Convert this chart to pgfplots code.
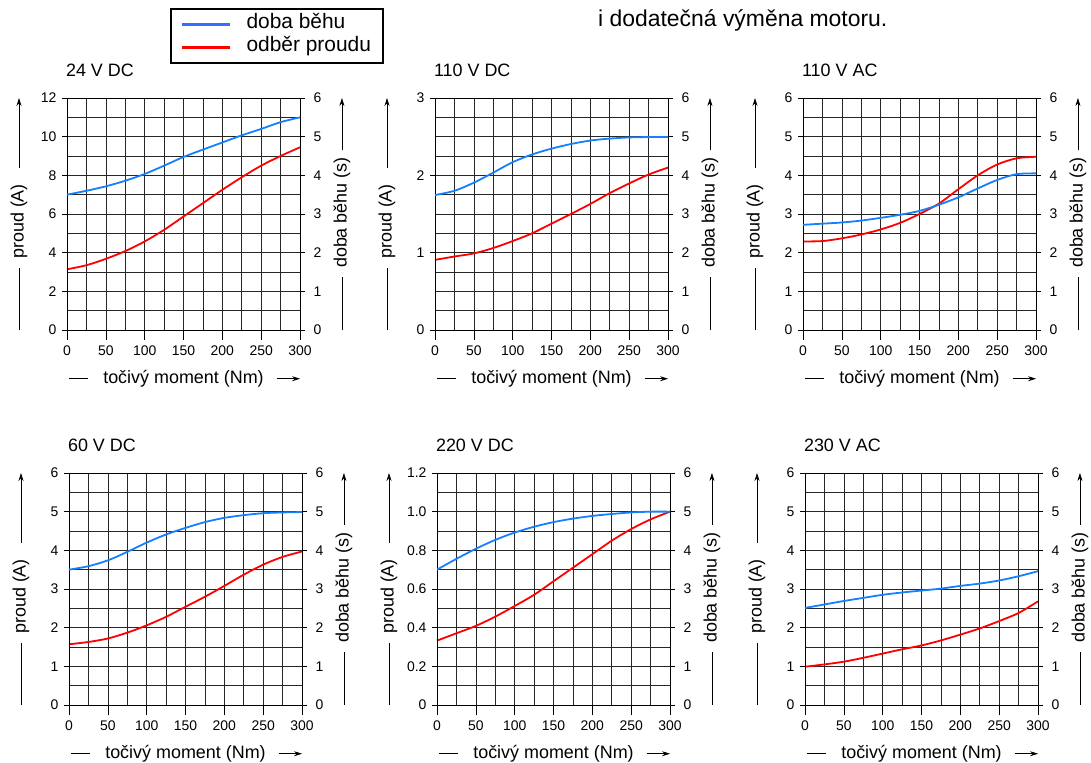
\documentclass[border=0pt]{standalone}
\usepackage{fontspec}
\setmainfont{Liberation Sans}
\usepackage{pgfplots}
\pgfplotsset{compat=1.18}
\usetikzlibrary{arrows.meta}
\definecolor{cblue}{RGB}{20,128,255}
\definecolor{cred}{RGB}{255,0,0}
\definecolor{lblue}{RGB}{50,110,255}
\newcommand\tickfont{\fontsize{14}{16}\selectfont}
\newcommand\labfont{\fontsize{18}{20}\selectfont}
\tikzset{
  redc/.style={cred, line width=1.8bp, smooth},
  bluec/.style={cblue, line width=1.8bp, smooth},
  labl/.style={black, line width=0.7bp},
  arr/.style={labl, -{Stealth[length=8bp,width=5bp]}},
}
\pgfplotsset{
  base/.style={scale only axis, width=233bp, height=232bp, xmin=0, xmax=300, ymin=0,
    anchor=south west, tick align=outside, major tick length=5bp, minor tick length=0pt,
    axis line style={black, line width=0.65bp}, every tick/.style={black, line width=0.65bp},
    tick label style={font=\tickfont}, clip=false,
    /pgf/number format/assume math mode=true},
}
% #1 x, #2 y (bottom-left, bp), #3 title, #4 ymax, #5 ytick, #6 minor ytick, #7 yticklabels, #8 red, #9 blue
\newcommand\panel[9]{%
\begin{axis}[base, at={(#1bp,#2bp)}, ymax=#4, ytick={#5}, minor ytick={#6}, yticklabels={#7},
  xtick={0,50,...,300}, minor xtick={25,75,...,275}, xticklabels={0,50,100,150,200,250,300},
  grid=both, major grid style={black!85, line width=0.65bp}, minor grid style={black!85, line width=0.65bp},
  ytick pos=left, xtick pos=left,
  yticklabel style={xshift=-2bp}, xticklabel style={yshift=-7bp}]
\addplot[redc] coordinates {#8};
\node[anchor=west, inner sep=0pt, font=\labfont] at (axis description cs:-0.005,1.121) {#3};
\node[rotate=90, inner sep=0pt, font=\labfont] at (axis description cs:-0.206,0.468) {proud (A)};
\draw[labl] (axis description cs:-0.206,0) -- (axis description cs:-0.206,0.267);
\draw[arr] (axis description cs:-0.206,0.70) -- (axis description cs:-0.206,1.0);
\node[rotate=90, inner sep=0pt, font=\labfont] at (axis description cs:1.18,0.506) {doba běhu (s)};
\draw[labl] (axis description cs:1.18,0) -- (axis description cs:1.18,0.228);
\draw[arr] (axis description cs:1.18,0.776) -- (axis description cs:1.18,1.0);
\node[inner sep=0pt, font=\labfont] at (axis description cs:0.5,-0.21) {točivý moment (Nm)};
\draw[labl] (axis description cs:0.01,-0.21) -- (axis description cs:0.09,-0.21);
\draw[arr] (axis description cs:0.90,-0.21) -- (axis description cs:1.0,-0.21);
\end{axis}
\begin{axis}[base, at={(#1bp,#2bp)}, ymax=6, ytick={0,1,...,6}, yticklabels={0,1,2,3,4,5,6},
  hide x axis, ytick pos=right, yticklabel pos=right, yticklabel style={xshift=5bp}]
\addplot[bluec] coordinates {#9};
\end{axis}
\begin{axis}[base, at={(#1bp,#2bp)}, ymax=1, hide y axis, xtick pos=left, major tick length=10bp,
  xtick={0,50,...,300}, xticklabels={}]
\end{axis}
}

\begin{document}
\begin{tikzpicture}
\useasboundingbox (0,0) rectangle (1091bp,763bp);

\node[anchor=base west, inner sep=0pt, font=\fontsize{23}{23}\selectfont] at (598bp,736bp) {i dodatečná výměna motoru.};

% legend
\begin{axis}[at={(170bp,755bp)}, anchor=north west, scale only axis, width=10bp, height=10bp,
  hide axis, xmin=0, xmax=1, ymin=0, ymax=1,
  legend style={at={(0,1)}, anchor=north west, draw=black, line width=1.8bp,
    font=\fontsize{21}{21}\selectfont, inner xsep=10bp, inner ysep=4bp, column sep=13bp,
    nodes={inner sep=2bp, text height=14bp, text depth=5bp}, cells={anchor=west}},
  legend image code/.code={\draw[#1, line width=2.6bp] (0bp,0bp) -- (48bp,0bp);}]
\addlegendimage{lblue, line width=1.8bp}
\addlegendentry{doba běhu}
\addlegendimage{redc}
\addlegendentry{odběr proudu}
\end{axis}

% 24 V DC
\panel{67}{433}{24 V DC}{12}{0,2,4,6,8,10,12}{1,3,5,7,9,11}{0,2,4,6,8,10,12}
{(0,3.14) (25,3.35) (50,3.68) (75,4.08) (100,4.58) (125,5.18) (150,5.87) (175,6.56) (200,7.25) (225,7.9) (250,8.5) (275,9.0) (300,9.45)}
{(0,3.5) (25,3.6) (50,3.715) (75,3.86) (100,4.035) (125,4.25) (150,4.475) (175,4.665) (200,4.85) (225,5.035) (250,5.2) (275,5.375) (300,5.5)}

% 110 V DC
\panel{435}{433}{110 V DC}{3}{0,1,2,3}{0.25,0.5,0.75,1.25,1.5,1.75,2.25,2.5,2.75}{0,1,2,3}
{(0,0.907) (25,0.95) (50,0.99) (75,1.06) (100,1.15) (125,1.25) (150,1.375) (175,1.5) (200,1.63) (225,1.77) (250,1.895) (275,2.01) (300,2.1)}
{(0,3.49) (25,3.6) (50,3.81) (75,4.07) (100,4.34) (125,4.54) (150,4.69) (175,4.81) (200,4.9) (225,4.95) (250,4.98) (275,4.99) (300,4.99)}

% 110 V AC
\panel{803}{433}{110 V AC}{6}{0,1,2,3,4,5,6}{0.5,1.5,2.5,3.5,4.5,5.5}{0,1,2,3,4,5,6}
{(0,2.29) (25,2.3) (50,2.37) (75,2.47) (100,2.6) (125,2.77) (150,3.0) (175,3.27) (200,3.64) (225,4.0) (250,4.28) (275,4.44) (300,4.48)}
{(0,2.72) (25,2.75) (50,2.78) (75,2.83) (100,2.9) (125,2.98) (150,3.08) (175,3.24) (200,3.43) (225,3.66) (250,3.88) (275,4.03) (300,4.05)}

% 60 V DC
\panel{69}{58}{60 V DC}{6}{0,1,2,3,4,5,6}{0.5,1.5,2.5,3.5,4.5,5.5}{0,1,2,3,4,5,6}
{(0,1.57) (25,1.63) (50,1.72) (75,1.87) (100,2.06) (125,2.28) (150,2.54) (175,2.8) (200,3.08) (225,3.37) (250,3.63) (275,3.83) (300,3.97)}
{(0,3.5) (25,3.59) (50,3.74) (75,3.96) (100,4.2) (125,4.41) (150,4.58) (175,4.73) (200,4.84) (225,4.91) (250,4.96) (275,4.98) (300,4.99)}

% 220 V DC
\panel{437}{58}{220 V DC}{1.2}{0,0.2,0.4,0.6,0.8,1,1.2}{0.1,0.3,0.5,0.7,0.9,1.1}{0,0.2,0.4,0.6,0.8,1.0,1.2}
{(0,0.333) (25,0.371) (50,0.409) (75,0.457) (100,0.512) (125,0.57) (150,0.64) (175,0.71) (200,0.78) (225,0.85) (250,0.91) (275,0.96) (300,1.0)}
{(0,3.5) (25,3.78) (50,4.04) (75,4.27) (100,4.46) (125,4.61) (150,4.73) (175,4.82) (200,4.89) (225,4.94) (250,4.98) (275,5.0) (300,5.0)}

% 230 V AC
\panel{805}{58}{230 V AC}{6}{0,1,2,3,4,5,6}{0.5,1.5,2.5,3.5,4.5,5.5}{0,1,2,3,4,5,6}
{(0,0.99) (25,1.05) (50,1.12) (75,1.22) (100,1.33) (125,1.44) (150,1.54) (175,1.67) (200,1.82) (225,1.98) (250,2.17) (275,2.38) (300,2.68)}
{(0,2.51) (25,2.6) (50,2.69) (75,2.77) (100,2.85) (125,2.91) (150,2.96) (175,3.01) (200,3.08) (225,3.14) (250,3.22) (275,3.33) (300,3.46)}

\end{tikzpicture}
\end{document}
